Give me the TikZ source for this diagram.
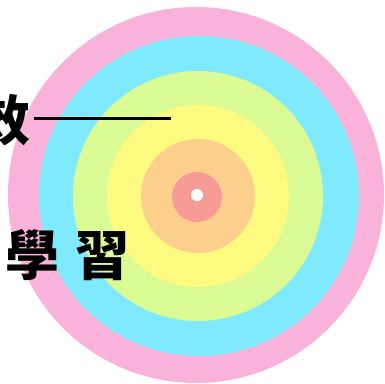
\documentclass[tikz,border=0pt]{standalone}
\usepackage{fontspec}
\newfontfamily\cjk{Noto Sans CJK TC}
\definecolor{ringpink}{HTML}{F9B3DA}
\definecolor{ringcyan}{HTML}{7FE9FD}
\definecolor{ringgreen}{HTML}{DBFC95}
\definecolor{ringyellow}{HTML}{FFFA80}
\definecolor{ringorange}{HTML}{FDCF8D}
\definecolor{ringred}{HTML}{F79B97}
\tikzset{
  ring/.style={fill=#1, draw=none},
  hanzi/.style={font=\cjk\bfseries\fontsize{54}{60}\selectfont, inner sep=0pt, text=black},
}
\begin{document}
\begin{tikzpicture}[x=1pt,y=-1pt]
\useasboundingbox (0,0) rectangle (385,383);
\clip (0,0) rectangle (385,383);
\fill[white] (0,0) rectangle (385,383);
\fill[ring=ringpink] (196,195) circle (188);
\fill[ring=ringcyan] (199,196) circle (160);
\fill[ring=ringgreen] (198,196) circle (125);
\fill[ring=ringyellow] (198,196) circle (91);
\fill[ring=ringorange] (198,196) circle (57);
\fill[ring=ringred] (197,197) circle (25);
\fill[white] (197,195) circle (6);
\node[hanzi] (xiao) at (4,120) {效};
\coordinate (lineend) at (171,118);
\draw[line width=3pt] (xiao.east |- lineend) ++(3,0) coordinate (linestart) -- (lineend);
\node[hanzi, anchor=west] (xuexi) at (5,255) {學\hspace{16pt}習};
\end{tikzpicture}
\end{document}
